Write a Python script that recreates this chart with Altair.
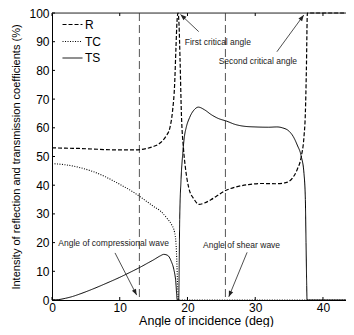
import altair as alt
import pandas as pd

# ---- data ----
series_names = ["R", "TC", "TS"]

R_x = [0, 2, 4, 6, 8, 10, 12, 13, 14, 15, 15.9, 16.8, 17.4, 17.8, 18.1, 18.3, 18.45, 18.6,
       18.75, 18.9, 19.1, 19.4, 19.7, 20.2, 21.0, 21.7, 22.5, 23.5, 24.5, 25.5, 27, 29, 31,
       33, 34.5, 35.5, 36.2, 36.8, 37.2, 37.4, 37.55, 37.7, 40, 43.4]
R_y = [53.0, 52.9, 52.8, 52.6, 52.4, 52.3, 52.3, 52.4, 52.8, 53.5, 54.6, 57, 60, 66, 75, 88,
       97, 100, 96, 84, 65, 53, 46, 39, 35, 33.3, 33.8, 35, 36.5, 38, 39.3, 40.2, 40.6,
       40.5, 40.9, 42.5, 45.5, 50, 57, 65, 80, 100, 100, 100]

TC_x = [0, 2, 4, 6, 8, 10, 12, 13, 14, 15, 16, 17, 17.6, 18.1, 18.3, 18.45, 18.55, 18.65, 30, 43.4]
TC_y = [47.5, 47.1, 46.2, 44.8, 42.8, 40.3, 37.6, 36.0, 34.3, 32.6, 31.0, 28.4, 26.5, 23.5,
        20, 12, 4, 0, 0, 0]

TS_x = [0, 1, 2, 3, 4, 6, 8, 10, 12, 13, 14, 15, 16, 16.5, 17.1, 17.6, 18.0, 18.25, 18.5,
        18.7, 18.85, 19.05, 19.3, 19.55, 19.8, 20.3, 21.0, 21.6, 22.5, 23.5, 24.5, 25.8, 27,
        28.5, 30, 32, 33.2, 34, 35, 35.6, 36.2, 36.8, 37.2, 37.4, 37.5, 37.6, 37.65, 40, 43.4]
TS_y = [0, 0.15, 0.6, 1.2, 2.0, 3.8, 5.8, 7.9, 10.2, 11.4, 12.7, 14.0, 15.4, 15.9, 15.5,
        13.5, 10.5, 7, 0, 0, 28, 42, 51, 57, 60, 63.5, 66.3, 67.2, 66.3, 64.6, 63.3, 62.3,
        61.2, 60.5, 60.3, 60.2, 60.3, 60, 58.8, 57, 54, 50, 44, 35, 20, 5, 0, 0, 0]

wave_angles = [12.9, 25.6]  # dashed vertical lines

x_ticks = [0, 10, 20, 30, 40]
y_ticks = [0, 10, 20, 30, 40, 50, 60, 70, 80, 90, 100]

ann_text = ["First critical angle", "Second critical angle",
            "Angle of compressional wave", "Angle of shear wave"]
ann_tx = [19.6, 24.6, 0.93, 22.3]
ann_ty = [90.0, 83.4, 19.9, 19.2]
arrow_x1 = [21.66, 33.2, 9.3, 28.8]
arrow_y1 = [93.5, 86.5, 16.4, 16.6]
arrow_x2 = [18.97, 37.17, 12.5, 26.1]
arrow_y2 = [99.5, 99.3, 1.7, 1.1]
arrow_ang = [312, 36, 153, 202]

# ---- build tables ----
rows = []
for name, xs_, ys_ in [("R", R_x, R_y), ("TC", TC_x, TC_y), ("TS", TS_x, TS_y)]:
    for a, b in zip(xs_, ys_):
        rows.append({"series": name, "x": a, "y": b})
curves = pd.DataFrame(rows)
ann = pd.DataFrame({"text": ann_text, "x": ann_tx, "y": ann_ty})
arrows = pd.DataFrame({"x": arrow_x1, "y": arrow_y1, "x2": arrow_x2, "y2": arrow_y2,
                       "ang": arrow_ang})
vlines = pd.DataFrame({"x": wave_angles})
xt = pd.DataFrame({"x": x_ticks})
yt = pd.DataFrame({"y": y_ticks})

FONT = "Liberation Sans"
W, H = 294, 287

xscale = alt.Scale(domain=[0, 43.4], nice=False, zero=False)
yscale = alt.Scale(domain=[0, 100], nice=False, zero=False)
xaxis = alt.Axis(values=x_ticks, title="Angle of incidence (deg)", tickSize=0, grid=False,
                 labelPadding=2, labelFlush=False, labelFont=FONT, labelFontSize=12,
                 labelColor="black", titleFont=FONT, titleFontSize=12.5,
                 titleFontWeight="normal", titleColor="black", titlePadding=1,
                 titleX=154, domainColor="black", labelOverlap=False)
yaxis = alt.Axis(values=y_ticks, title="Intensity of reflection and transmission coefficients (%)",
                 tickSize=0, grid=False, labelPadding=3, labelFont=FONT, labelFontSize=12,
                 labelColor="black", titleFont=FONT, titleFontSize=11,
                 titleFontWeight="normal", titleColor="black", titleX=-31, titleY=H / 2,
                 domainColor="black", labelOverlap=False)

X = alt.X("x:Q", scale=xscale, axis=xaxis)
Y = alt.Y("y:Q", scale=yscale, axis=yaxis)

lines = alt.Chart(curves).mark_line(interpolate="monotone", color="black").encode(
    x=X, y=Y,
    strokeDash=alt.StrokeDash(
        "series:N",
        scale=alt.Scale(domain=series_names, range=[[4, 2], [1, 1.5], [1, 0]]),
        legend=alt.Legend(title=None, orient="none", legendX=12, legendY=3, padding=0,
                          labelFont=FONT, labelFontSize=12, labelColor="black",
                          labelOffset=4, symbolType="M-1.33,0H1.33", symbolSize=225,
                          symbolStrokeWidth=1.3, symbolStrokeColor="black",
                          symbolFillColor="transparent", rowPadding=2)),
    strokeWidth=alt.StrokeWidth("series:N",
                                scale=alt.Scale(domain=series_names, range=[1.2, 1.0, 1.6]),
                                legend=None),
    detail="series:N",
)

vrules = alt.Chart(vlines).mark_rule(color="#555", strokeWidth=1, strokeDash=[8, 4]).encode(
    x=X)

top_line = alt.Chart(yt).transform_filter("datum.y == 100").mark_rule(
    color="#333", strokeWidth=1).encode(y=Y)

xticks_b = alt.Chart(xt).mark_rule(color="black").encode(
    x=X, y=alt.value(H), y2=alt.value(H - 3))
xticks_t = alt.Chart(xt).mark_rule(color="black").encode(
    x=X, y=alt.value(0), y2=alt.value(3))
yticks = alt.Chart(yt).mark_rule(color="black").encode(
    y=Y, x=alt.value(0), x2=alt.value(3))

texts = alt.Chart(ann).mark_text(align="left", baseline="middle", font=FONT, fontSize=8.5,
                                 color="#222").encode(x=X, y=Y, text="text:N")
arrow_lines = alt.Chart(arrows).mark_rule(color="#222", strokeWidth=0.8).encode(
    x=X, y=Y, x2="x2:Q", y2="y2:Q")
heads = alt.Chart(arrows).mark_point(shape="M0,0L-0.38,1L0.38,1Z", filled=True, size=144,
                                     color="#222", opacity=1).encode(
    x=alt.X("x2:Q", scale=xscale, axis=xaxis),
    y=alt.Y("y2:Q", scale=yscale, axis=yaxis),
    angle=alt.Angle("ang:Q", scale=None))

chart = alt.layer(vrules, top_line, xticks_b, xticks_t, yticks, lines, arrow_lines, heads,
                  texts).properties(
    width=W, height=H,
    autosize=alt.AutoSizeParams(type="none"),
    padding={"left": 44, "top": 5, "right": 0, "bottom": 27},
).configure_view(stroke=None).configure(background="white")

chart.save("out.html", embed_options={"renderer": "svg", "actions": False})
